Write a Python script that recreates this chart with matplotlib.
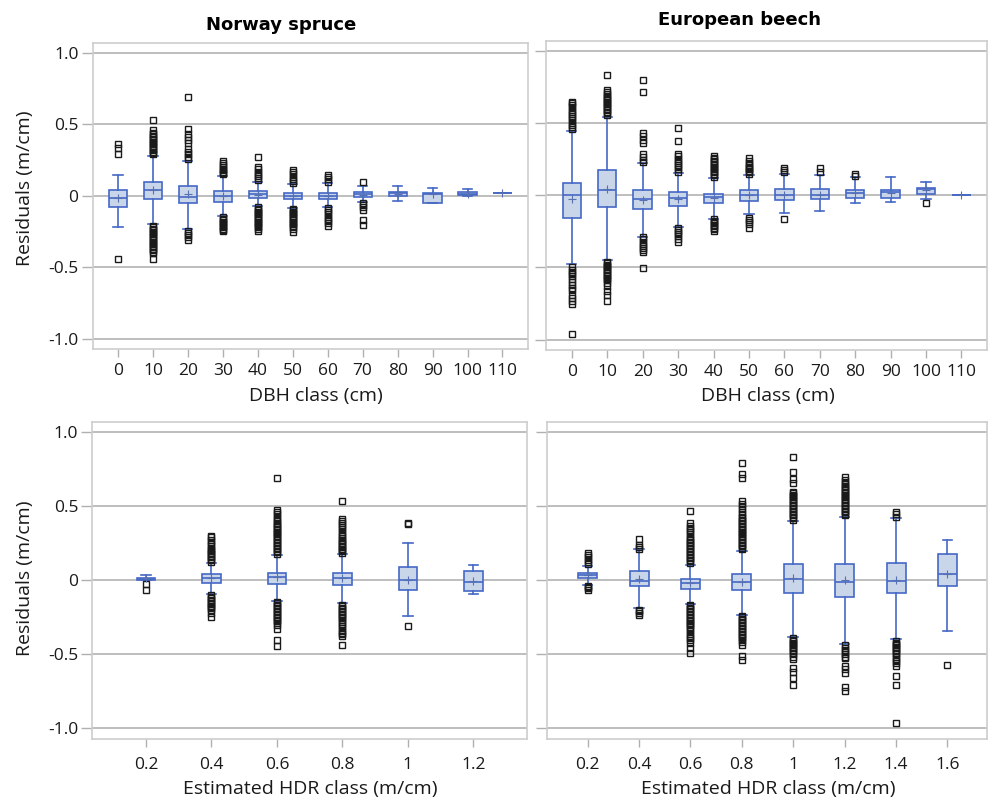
import numpy as np
import matplotlib
matplotlib.use("Agg")
import matplotlib.pyplot as plt

# ---- data ----
dbh_labels = ['0', '10', '20', '30', '40', '50', '60', '70', '80', '90', '100', '110']
hdr_sp_labels = ['0.2', '0.4', '0.6', '0.8', '1', '1.2']
hdr_eb_labels = ['0.2', '0.4', '0.6', '0.8', '1', '1.2', '1.4', '1.6']

# Norway spruce, DBH class
sp_dbh_q1 = [-0.075, -0.023, -0.05, -0.04, -0.014, -0.023, -0.023, -0.005, 0.0, -0.049, 0.005, 0.023]
sp_dbh_med = [-0.012, 0.042, -0.007, 0.0, 0.016, 0.002, 0.0, 0.012, 0.019, 0.016, 0.012, 0.023]
sp_dbh_q3 = [0.044, 0.10, 0.07, 0.033, 0.033, 0.019, 0.021, 0.026, 0.03, 0.021, 0.03, 0.023]
sp_dbh_lo = [-0.218, -0.20, -0.232, -0.143, -0.073, -0.084, -0.077, -0.044, -0.037, -0.049, 0.0, 0.023]
sp_dbh_hi = [0.148, 0.276, 0.246, 0.138, 0.096, 0.084, 0.089, 0.07, 0.07, 0.056, 0.049, 0.023]
sp_dbh_mean = [-0.016, 0.042, 0.01, 0.0, 0.007, 0.0, 0.0, 0.007, 0.014, 0.01, 0.016, 0.023]
sp_dbh_out = [
    [0.36, 0.337, 0.293, -0.44],
    [0.29, 0.30, 0.31, 0.32, 0.33, 0.34, 0.35, 0.36, 0.37, 0.38, 0.39, 0.40, 0.41, 0.42, 0.43, 0.44, 0.46, 0.53,
     -0.21, -0.22, -0.23, -0.24, -0.25, -0.26, -0.27, -0.28, -0.29, -0.30, -0.31, -0.32, -0.33, -0.34, -0.35,
     -0.36, -0.37, -0.38, -0.39, -0.40, -0.445],
    [0.69, 0.47, 0.43, 0.41, 0.39, 0.37, 0.33, 0.31, 0.29, 0.27, 0.255, -0.245, -0.26, -0.275, -0.29, -0.31],
    [0.243, 0.23, 0.215, 0.20, 0.19, 0.18, 0.17, 0.16, 0.15, -0.15, -0.16, -0.17, -0.18, -0.19, -0.20, -0.21,
     -0.22, -0.23, -0.24, -0.248],
    [0.27, 0.20, 0.185, 0.17, 0.155, 0.14, 0.125, 0.11, -0.08, -0.09, -0.10, -0.11, -0.12, -0.13, -0.14, -0.15,
     -0.16, -0.17, -0.18, -0.19, -0.20, -0.21, -0.22, -0.23, -0.246],
    [0.18, 0.165, 0.15, 0.135, 0.12, 0.105, 0.09, -0.09, -0.10, -0.11, -0.12, -0.13, -0.14, -0.15, -0.16, -0.17,
     -0.18, -0.19, -0.20, -0.21, -0.22, -0.235, -0.25],
    [0.143, 0.13, 0.115, 0.10, -0.085, -0.10, -0.115, -0.13, -0.145, -0.16, -0.175, -0.19, -0.208],
    [0.096, -0.05, -0.065, -0.08, -0.10, -0.166, -0.206],
    [], [], [], [],
]

# European beech, DBH class
eb_dbh_q1 = [-0.155, -0.08, -0.095, -0.076, -0.055, -0.037, -0.032, -0.028, -0.021, -0.021, 0.012, 0.0]
eb_dbh_med = [0.0, 0.035, -0.025, -0.021, -0.014, 0.002, 0.005, 0.002, 0.016, 0.021, 0.042, 0.0]
eb_dbh_q3 = [0.083, 0.175, 0.035, 0.021, 0.012, 0.035, 0.046, 0.044, 0.039, 0.039, 0.053, 0.0]
eb_dbh_lo = [-0.477, -0.45, -0.288, -0.221, -0.161, -0.131, -0.125, -0.108, -0.055, -0.048, -0.025, 0.0]
eb_dbh_hi = [0.445, 0.544, 0.224, 0.157, 0.122, 0.143, 0.148, 0.138, 0.127, 0.127, 0.095, 0.0]
eb_dbh_mean = [-0.025, 0.042, -0.032, -0.028, -0.016, 0.002, 0.005, 0.005, 0.014, 0.014, 0.037, 0.0]
eb_dbh_out = [
    [0.46, 0.475, 0.49, 0.505, 0.52, 0.535, 0.55, 0.565, 0.58, 0.595, 0.61, 0.625, 0.64, 0.65,
     -0.50, -0.515, -0.53, -0.545, -0.56, -0.58, -0.60, -0.62, -0.64, -0.655, -0.69, -0.71, -0.73, -0.75, -0.96],
    [0.837, 0.56, 0.57, 0.58, 0.59, 0.60, 0.61, 0.62, 0.63, 0.64, 0.65, 0.66, 0.67, 0.68, 0.69, 0.70, 0.715, 0.733,
     -0.46, -0.47, -0.48, -0.49, -0.50, -0.51, -0.52, -0.53, -0.54, -0.55, -0.56, -0.57, -0.58, -0.59, -0.61,
     -0.63, -0.66, -0.69, -0.73],
    [0.80, 0.717, 0.434, 0.41, 0.385, 0.36, 0.284, 0.265, 0.245, 0.23, -0.29, -0.305, -0.32, -0.335, -0.35,
     -0.365, -0.38, -0.39, -0.503],
    [0.47, 0.376, 0.284, 0.27, 0.255, 0.24, 0.225, 0.21, 0.195, 0.18, 0.165, -0.225, -0.24, -0.255, -0.27,
     -0.285, -0.30, -0.325],
    [0.272, 0.26, 0.25, 0.24, 0.23, 0.22, 0.21, 0.20, 0.19, 0.18, 0.17, 0.16, 0.15, 0.14, 0.13,
     -0.165, -0.175, -0.185, -0.195, -0.205, -0.215, -0.225, -0.235, -0.247],
    [0.256, 0.24, 0.225, 0.21, 0.20, 0.19, 0.18, 0.17, 0.16, 0.15, -0.155, -0.17, -0.185, -0.20, -0.224],
    [0.19, 0.175, 0.16, -0.161],
    [0.19, 0.16],
    [0.15, 0.135],
    [],
    [-0.053],
    [],
]

# Norway spruce, HDR class
sp_hdr_q1 = [0.005, -0.016, -0.023, -0.034, -0.068, -0.074]
sp_hdr_med = [0.009, 0.018, 0.02, 0.016, 0.0, -0.009]
sp_hdr_q3 = [0.018, 0.041, 0.052, 0.052, 0.088, 0.065]
sp_hdr_lo = [0.0, -0.092, -0.138, -0.156, -0.241, -0.092]
sp_hdr_hi = [0.034, 0.117, 0.169, 0.176, 0.25, 0.101]
sp_hdr_mean = [0.014, 0.016, 0.02, 0.016, 0.0, -0.002]
sp_hdr_out = [
    [-0.025, -0.068],
    [0.125, 0.135, 0.145, 0.155, 0.165, 0.175, 0.185, 0.195, 0.205, 0.215, 0.23, 0.245, 0.26, 0.275, 0.29, 0.30,
     -0.10, -0.11, -0.12, -0.13, -0.14, -0.15, -0.16, -0.17, -0.18, -0.19, -0.20, -0.219, -0.25],
    [0.69, 0.18, 0.19, 0.20, 0.21, 0.22, 0.23, 0.24, 0.25, 0.26, 0.27, 0.28, 0.29, 0.30, 0.31, 0.32, 0.33,
     0.34, 0.35, 0.36, 0.37, 0.38, 0.39, 0.40, 0.415, 0.43, 0.445, 0.46, 0.476,
     -0.145, -0.155, -0.165, -0.175, -0.185, -0.195, -0.205, -0.215, -0.225, -0.235, -0.245, -0.255, -0.265,
     -0.275, -0.285, -0.30, -0.33, -0.40, -0.446],
    [0.537, 0.185, 0.195, 0.205, 0.215, 0.225, 0.235, 0.245, 0.255, 0.265, 0.275, 0.285, 0.30, 0.315, 0.33,
     0.345, 0.36, 0.375, 0.39, 0.40, 0.413,
     -0.165, -0.175, -0.185, -0.195, -0.205, -0.215, -0.225, -0.235, -0.245, -0.255, -0.265, -0.28, -0.295,
     -0.31, -0.325, -0.34, -0.355, -0.365, -0.377, -0.44],
    [0.386, 0.379, -0.307],
    [],
]

# European beech, HDR class
eb_hdr_q1 = [0.013, -0.04, -0.058, -0.065, -0.088, -0.112, -0.083, -0.036]
eb_hdr_med = [0.038, -0.007, -0.018, -0.011, 0.007, -0.009, -0.007, 0.043]
eb_hdr_q3 = [0.047, 0.061, 0.009, 0.04, 0.108, 0.108, 0.119, 0.178]
eb_hdr_lo = [-0.029, -0.187, -0.157, -0.234, -0.382, -0.43, -0.398, -0.344]
eb_hdr_hi = [0.097, 0.209, 0.106, 0.198, 0.398, 0.43, 0.423, 0.274]
eb_hdr_mean = [0.038, 0.009, -0.02, -0.011, 0.013, 0.004, 0.0, 0.04]
eb_hdr_out = [
    [0.185, 0.17, 0.155, 0.14, 0.125, 0.11, -0.035, -0.045, -0.055, -0.065],
    [0.281, 0.24, 0.225, 0.21, -0.198, -0.21, -0.222, -0.236],
    [0.468, 0.387, 0.37, 0.355, 0.34, 0.325, 0.31, 0.295, 0.28, 0.27, 0.26, 0.25, 0.24, 0.23, 0.22, 0.21,
     0.20, 0.19, 0.18, 0.17, 0.16, 0.15, 0.14, 0.13, 0.12,
     -0.165, -0.175, -0.185, -0.195, -0.205, -0.215, -0.225, -0.235, -0.245, -0.255, -0.265, -0.275, -0.285,
     -0.295, -0.305, -0.315, -0.33, -0.345, -0.36, -0.375, -0.39, -0.405, -0.423, -0.457, -0.493],
    [0.796, 0.72, 0.69, 0.533, 0.515, 0.50, 0.48, 0.46, 0.445, 0.43, 0.42, 0.41, 0.40, 0.39, 0.38, 0.37, 0.36,
     0.35, 0.34, 0.33, 0.32, 0.31, 0.30, 0.29, 0.28, 0.27, 0.26, 0.25, 0.24, 0.23, 0.22, 0.21,
     -0.24, -0.25, -0.26, -0.27, -0.28, -0.29, -0.30, -0.31, -0.32, -0.33, -0.34, -0.35, -0.36, -0.37, -0.38,
     -0.39, -0.40, -0.415, -0.434, -0.508, -0.54],
    [0.832, 0.731, 0.686, 0.661, 0.60, 0.59, 0.58, 0.57, 0.56, 0.55, 0.54, 0.53, 0.52, 0.51, 0.50, 0.49, 0.48,
     0.47, 0.46, 0.45, 0.44, 0.43, 0.42, 0.41,
     -0.39, -0.40, -0.41, -0.42, -0.43, -0.44, -0.45, -0.46, -0.47, -0.48, -0.49, -0.50, -0.515, -0.53,
     -0.59, -0.62, -0.66, -0.706],
    [0.695, 0.68, 0.665, 0.65, 0.64, 0.63, 0.62, 0.61, 0.60, 0.59, 0.58, 0.57, 0.56, 0.55, 0.54, 0.53, 0.52,
     0.51, 0.50, 0.49, 0.48, 0.47, 0.46, 0.45, 0.44,
     -0.44, -0.455, -0.47, -0.485, -0.50, -0.515, -0.524, -0.58, -0.60, -0.625, -0.72, -0.751],
    [0.461, 0.445, 0.43, -0.41, -0.42, -0.43, -0.44, -0.45, -0.46, -0.47, -0.48, -0.49, -0.50, -0.515, -0.53,
     -0.545, -0.56, -0.58, -0.643, -0.706, -0.963],
    [-0.571],
]

W, H = 989, 802
fig = plt.figure(figsize=(W / 100, H / 100), dpi=100)
plt.rcParams['font.family'] = ['Open Sans', 'DejaVu Sans']

BOX_FACE = '#c9d5e8'
BOX_EDGE = '#4668c6'
GRID_C = '#b9b9b9'
FRAME_C = '#cdcdcd'
TXT = '#1a1a1a'


def make_axes(l, t, r, b):
    return fig.add_axes([l / W, 1 - b / H, (r - l) / W, (b - t) / H])


def draw_panel(ax, labels, q1, med, q3, lo, hi, mean, out, width, xlim, show_ylab):
    stats = []
    for i in range(len(labels)):
        stats.append(dict(q1=q1[i], med=med[i], q3=q3[i], whislo=lo[i], whishi=hi[i],
                          mean=mean[i], fliers=out[i]))
    ax.bxp(stats, positions=range(len(labels)), widths=width, capwidths=width * 0.5,
           showmeans=True, patch_artist=True,
           boxprops=dict(facecolor=BOX_FACE, edgecolor=BOX_EDGE, linewidth=1.2),
           medianprops=dict(color=BOX_EDGE, linewidth=1.2),
           whiskerprops=dict(color=BOX_EDGE, linewidth=1.2),
           capprops=dict(color=BOX_EDGE, linewidth=1.2),
           meanprops=dict(marker='+', markeredgecolor='#5670b0', markersize=6, markeredgewidth=0.8),
           flierprops=dict(marker='s', markerfacecolor='none', markeredgecolor='#1a1a1a',
                           markersize=4.2, markeredgewidth=1.0))
    ax.set_xlim(*xlim)
    ax.set_ylim(-1.072, 1.07)
    ax.set_yticks([-1.0, -0.5, 0, 0.5, 1.0])
    if show_ylab:
        ax.set_yticklabels(['-1.0', '-0.5', '0', '0.5', '1.0'])
    else:
        ax.set_yticklabels([])
    ax.set_xticks(range(len(labels)))
    ax.set_xticklabels(labels)
    ax.set_axisbelow(True)
    ax.yaxis.grid(True, color=GRID_C, linewidth=1.3)
    for s in ax.spines.values():
        s.set_color(FRAME_C)
        s.set_linewidth(1.2)
    ax.tick_params(axis='both', direction='out', color='#b0b0b0', width=1, labelsize=12.5,
                   labelcolor=TXT)
    ax.tick_params(axis='y', length=8, pad=2)
    ax.tick_params(axis='x', length=6, pad=4)


ax1 = make_axes(92.5, 43, 528, 349)
draw_panel(ax1, dbh_labels, sp_dbh_q1, sp_dbh_med, sp_dbh_q3, sp_dbh_lo, sp_dbh_hi, sp_dbh_mean,
           sp_dbh_out, 0.52, (-0.73, 11.73), True)

ax2 = make_axes(546, 41, 987, 350)
draw_panel(ax2, dbh_labels, eb_dbh_q1, eb_dbh_med, eb_dbh_q3, eb_dbh_lo, eb_dbh_hi, eb_dbh_mean,
           eb_dbh_out, 0.52, (-0.73, 11.72), False)

ax3 = make_axes(92.3, 422, 527, 739)
draw_panel(ax3, hdr_sp_labels, sp_hdr_q1, sp_hdr_med, sp_hdr_q3, sp_hdr_lo, sp_hdr_hi, sp_hdr_mean,
           sp_hdr_out, 0.285, (-0.82, 5.82), True)
ax3.tick_params(axis='x', pad=7)

ax4 = make_axes(547, 422, 987, 739)
draw_panel(ax4, hdr_eb_labels, eb_hdr_q1, eb_hdr_med, eb_hdr_q3, eb_hdr_lo, eb_hdr_hi, eb_hdr_mean,
           eb_hdr_out, 0.37, (-0.79, 7.77), False)
ax4.tick_params(axis='x', pad=7)

# titles and axis labels
fig.text(281 / W, 1 - 25 / H, 'Norway spruce', ha='center', va='center', fontsize=13,
         fontweight='bold', family='DejaVu Sans')
fig.text(739 / W, 1 - 20 / H, 'European beech', ha='center', va='center', fontsize=13,
         fontweight='bold', family='DejaVu Sans')
fig.text(316 / W, 1 - 396 / H, 'DBH class (cm)', ha='center', va='center', fontsize=14, color=TXT)
fig.text(768 / W, 1 - 396 / H, 'DBH class (cm)', ha='center', va='center', fontsize=14, color=TXT)
fig.text(310 / W, 1 - 789 / H, 'Estimated HDR class (m/cm)', ha='center', va='center', fontsize=14,
         color=TXT)
fig.text(768 / W, 1 - 789 / H, 'Estimated HDR class (m/cm)', ha='center', va='center', fontsize=14,
         color=TXT)
fig.text(25 / W, 1 - 188 / H, 'Residuals (m/cm)', ha='center', va='center', rotation=90, fontsize=14,
         color=TXT)
fig.text(25 / W, 1 - 578 / H, 'Residuals (m/cm)', ha='center', va='center', rotation=90, fontsize=14,
         color=TXT)

fig.savefig('out.png', dpi=100)
